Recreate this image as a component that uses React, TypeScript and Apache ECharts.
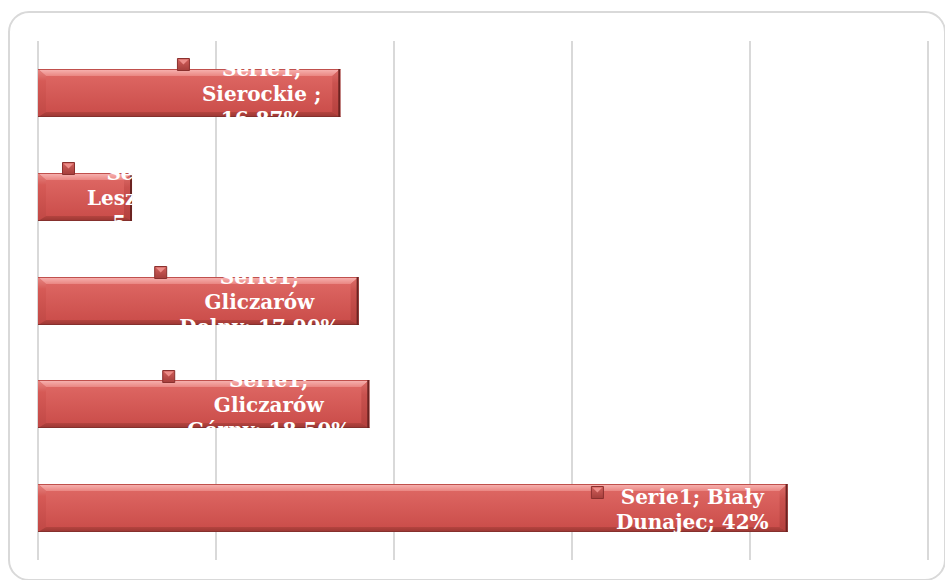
import React, { useEffect, useRef } from "react";
import * as echarts from "echarts";

// ---- data (bottom to top) ----
const seriesName = "Serie1";
const categories = ["Biały Dunajec", "Gliczarów Górny", "Gliczarów Dolny", "Leszczyny", "Sierockie "];
const values = [42, 18.5, 17.9, 5.17, 16.87];
const valueLabels = ["42%", "18,50%", "17,90%", "5,17%", "16,87%"];
const axisMin = 0;
const axisMax = 50;
const axisInterval = 10;

const FONT = 'bold 20px "DejaVu Serif"';
const LINE_H = 25;
const WRAP_W = 170;

let measureCtx: CanvasRenderingContext2D | null = null;
function textWidth(s: string): number {
  if (!measureCtx) {
    const c = document.createElement("canvas");
    measureCtx = c.getContext("2d");
  }
  if (!measureCtx) return s.length * 10;
  measureCtx.font = FONT;
  return measureCtx.measureText(s).width;
}

function wrapText(text: string, maxW: number): string[] {
  const words = text.split(" ");
  const lines: string[] = [];
  let cur = "";
  for (const w of words) {
    const t = cur ? cur + " " + w : w;
    if (!cur || textWidth(t) <= maxW) cur = t;
    else {
      lines.push(cur);
      cur = w;
    }
  }
  if (cur) lines.push(cur);
  return lines;
}

function lin(stops: [number, string][]) {
  return {
    type: "linear",
    x: 0,
    y: 0,
    x2: 0,
    y2: 1,
    colorStops: stops.map(([offset, color]) => ({ offset, color })),
  };
}

export default function App() {
  const ref = useRef<HTMLDivElement>(null);

  useEffect(() => {
    if (!ref.current) return;
    const chart = echarts.init(ref.current, null, { renderer: "svg" });

    const data = values.map((v, i) => [v, i]);

    const renderItem = (params: any, api: any) => {
      const idx = params.dataIndex;
      const v = api.value(0);
      const c = api.value(1);
      const start = api.coord([0, c]);
      const end = api.coord([v, c]);
      const band = api.size([0, 1])[1];
      const h = Math.round(band * 0.465);
      const x0 = start[0];
      const x1 = end[0] + 2;
      const yc = end[1];
      const y0 = Math.round(yc - h / 2);
      const y1 = y0 + h;
      const w = x1 - x0;
      const b = 8;
      const t = 7;
      const bb = 5;

      const barChildren: any[] = [
        {
          type: "rect",
          shape: { x: x0, y: y0, width: w, height: h },
          style: { fill: lin([[0, "#E06A66"], [1, "#C94B48"]]) },
        },
        {
          type: "polygon",
          shape: { points: [[x0, y0], [x1, y0], [x1 - b, y0 + t], [x0 + b, y0 + t]] },
          style: { fill: lin([[0, "#F8B6B4"], [1, "#EA8682"]]) },
        },
        {
          type: "polygon",
          shape: { points: [[x0, y0], [x0 + b, y0 + t], [x0 + b, y1 - bb], [x0, y1]] },
          style: { fill: lin([[0, "#E68884"], [0.25, "#D65A56"], [1, "#C04845"]]) },
        },
        {
          type: "polygon",
          shape: { points: [[x1, y0], [x1 - b, y0 + t], [x1 - b, y1 - bb], [x1, y1]] },
          style: { fill: lin([[0, "#DC6E6A"], [0.3, "#CA524F"], [1, "#B4403D"]]) },
        },
        {
          type: "polygon",
          shape: { points: [[x0, y1], [x1, y1], [x1 - b, y1 - bb], [x0 + b, y1 - bb]] },
          style: { fill: lin([[0, "#B4443F"], [1, "#9A3633"]]) },
        },
        {
          type: "line",
          shape: { x1: x0, y1: y0 + 0.5, x2: x1, y2: y0 + 0.5 },
          style: { stroke: "#C0504D", lineWidth: 1 },
        },
        {
          type: "line",
          shape: { x1: x0, y1: y1 - 0.5, x2: x1, y2: y1 - 0.5 },
          style: { stroke: "#85302D", lineWidth: 1 },
        },
        {
          type: "line",
          shape: { x1: x1 - 1, y1: y0, x2: x1 - 1, y2: y1 },
          style: { stroke: "#6B2321", lineWidth: 2 },
        },
      ];

      // label
      const text = `${seriesName}; ${categories[idx]}; ${valueLabels[idx]}`;
      const lines = wrapText(text, WRAP_W);
      const maxLW = Math.max(...lines.map(textWidth));
      const areaW = maxLW + 14;
      let textRight = x1 - 12;
      let textLeft = textRight - areaW;
      let markerLeft = textLeft - 5 - 13;
      if (markerLeft < x0 + 24) {
        const shift = x0 + 24 - markerLeft;
        markerLeft += shift;
        textLeft += shift;
        textRight += shift;
      }
      const n = lines.length;
      const firstLineC = yc - ((n - 1) * LINE_H) / 2;
      const mY = Math.round(firstLineC - 3 - 6.5);
      const ms = 13;

      const marker: any[] = [
        {
          type: "rect",
          shape: { x: markerLeft + 0.5, y: mY + 0.5, width: ms - 1, height: ms - 1 },
          style: { fill: lin([[0, "#D2605C"], [1, "#A53E3B"]]), stroke: "#8A302E", lineWidth: 1 },
        },
        {
          type: "polygon",
          shape: {
            points: [
              [markerLeft + 1.5, mY + 1.5],
              [markerLeft + ms - 1.5, mY + 1.5],
              [markerLeft + ms / 2, mY + ms / 2],
            ],
          },
          style: { fill: "#EC8D89" },
        },
      ];

      const labelGroup = {
        type: "group",
        clipPath: { type: "rect", shape: { x: x0, y: y0, width: w, height: h } },
        children: [
          {
            type: "text",
            style: {
              text: lines.join("\n"),
              x: (textLeft + textRight) / 2,
              y: yc + 1,
              align: "center",
              verticalAlign: "middle",
              fill: "#FFFFFF",
              font: FONT,
              lineHeight: LINE_H,
            },
          },
        ],
      };

      return { type: "group", children: [...barChildren, labelGroup, ...marker] };
    };

    chart.setOption({
      animation: false,
      backgroundColor: "#FFFFFF",
      graphic: [
        {
          type: "rect",
          z: -10,
          shape: { x: 9, y: 12, width: 936, height: 568, r: 20 },
          style: { fill: "none", stroke: "#D9D9D9", lineWidth: 2 },
        },
      ],
      grid: { left: 38, right: 17, top: 41, bottom: 20, containLabel: false },
      xAxis: {
        type: "value",
        min: axisMin,
        max: axisMax,
        interval: axisInterval,
        axisLabel: { show: false },
        axisLine: { show: false },
        axisTick: { show: false },
        splitLine: { show: true, lineStyle: { color: "#D9D9D9", width: 2 } },
      },
      yAxis: {
        type: "category",
        data: categories,
        axisLabel: { show: false },
        axisLine: { show: false },
        axisTick: { show: false },
        splitLine: { show: false },
      },
      series: [
        {
          type: "custom",
          name: seriesName,
          data,
          encode: { x: 0, y: 1 },
          renderItem,
          clip: false,
        },
      ],
    });

    return () => chart.dispose();
  }, []);

  return (
    <div
      ref={ref}
      style={{ position: "absolute", left: 0, top: 0, width: 945, height: 580, background: "#fff" }}
    />
  );
}
